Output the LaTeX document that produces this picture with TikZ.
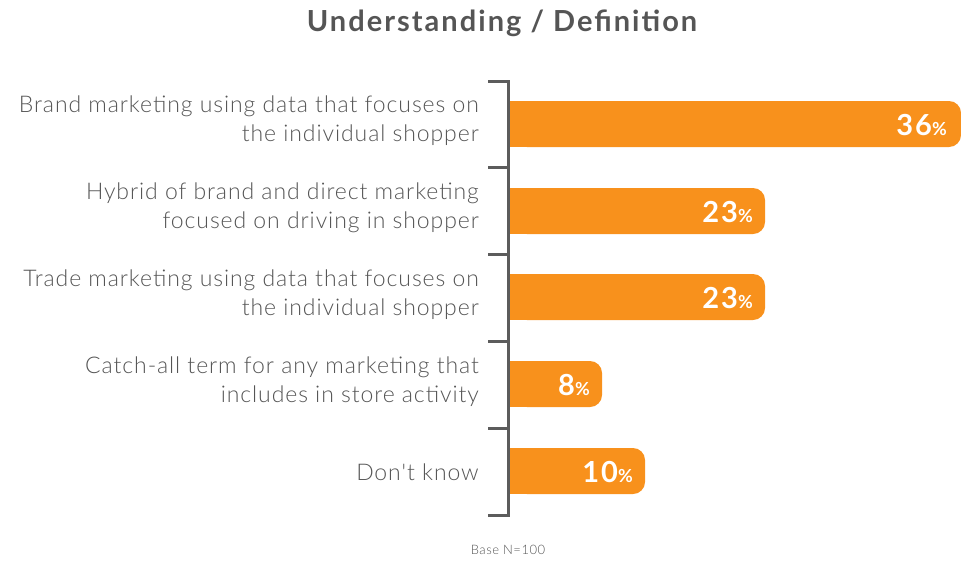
\documentclass[tikz,border=0pt]{standalone}
\usepackage{fontspec}
\setmainfont[LetterSpace=7]{Lato}
\newfontfamily\lightfont[LetterSpace=4]{Lato Light}
\definecolor{barorange}{RGB}{248,145,28}
\definecolor{axisgray}{RGB}{92,92,92}
\definecolor{textgray}{RGB}{85,85,85}
\newcommand{\pctval}[1]{{\fontsize{29}{29}\selectfont #1}{\fontsize{18}{18}\selectfont\%}}

\begin{document}
\begin{tikzpicture}[x=1pt, y=-1pt,
    catlabel/.style={anchor=east, align=right, inner sep=0pt, text=textgray,
        font=\lightfont\fontsize{23}{29}\selectfont},
    pctlabel/.style={anchor=east, inner sep=0pt, text=white, font=\bfseries},
    bar/.style={fill=barorange},
    axis/.style={draw=axisgray, line width=3pt}]
    \useasboundingbox (0,0) rectangle (961,562);

    % Title
    \node[text=textgray, font=\bfseries\fontsize{29}{29}\selectfont] (title) at (502,23) {Understanding / Definition};

    % Axis with ticks
    \draw[axis] (488,81) -- (508,81) -- (508,515) -- (488,515);
    \draw[axis] (488,167.5) -- (508,167.5);
    \draw[axis] (488,254) -- (508,254);
    \draw[axis] (488,341) -- (508,341);
    \draw[axis] (488,428) -- (508,428);

    % Bars
    \fill[bar, rounded corners=12pt] (515,101) rectangle (961,147);
    \fill[bar] (510,101) rectangle (530,147);
    \fill[bar, rounded corners=12pt] (515,188) rectangle (765,234);
    \fill[bar] (510,188) rectangle (530,234);
    \fill[bar, rounded corners=12pt] (515,274) rectangle (765,320);
    \fill[bar] (510,274) rectangle (530,320);
    \fill[bar, rounded corners=12pt] (515,361) rectangle (602,407);
    \fill[bar] (510,361) rectangle (530,407);
    \fill[bar, rounded corners=12pt] (515,448) rectangle (645,494);
    \fill[bar] (510,448) rectangle (530,494);

    % Values
    \node[pctlabel] (pbrand) at (947,125) {\pctval{36}};
    \node[pctlabel] (phybrid) at (753,212) {\pctval{23}};
    \node[pctlabel] (ptrade) at (753,298) {\pctval{23}};
    \node[pctlabel] (pcatch) at (590,385) {\pctval{8}};
    \node[pctlabel] (pdk) at (633,472) {\pctval{10}};

    % Categories
    \node[catlabel] (lbrand) at (479,121) {Brand marketing using data that focuses on\\the individual shopper};
    \node[catlabel] (lhybrid) at (479,208) {Hybrid of brand and direct marketing\\focused on driving in shopper};
    \node[catlabel] (ltrade) at (479,295) {Trade marketing using data that focuses on\\the individual shopper};
    \node[catlabel] (lcatch) at (479,382) {Catch-all term for any marketing that\\includes in store activity};
    \node[catlabel] (ldk) at (479,472) {Don't know};

    % Base
    \node[text=textgray, font=\lightfont\fontsize{13}{13}\selectfont] (base) at (508,550) {Base N=100};
\end{tikzpicture}
\end{document}
